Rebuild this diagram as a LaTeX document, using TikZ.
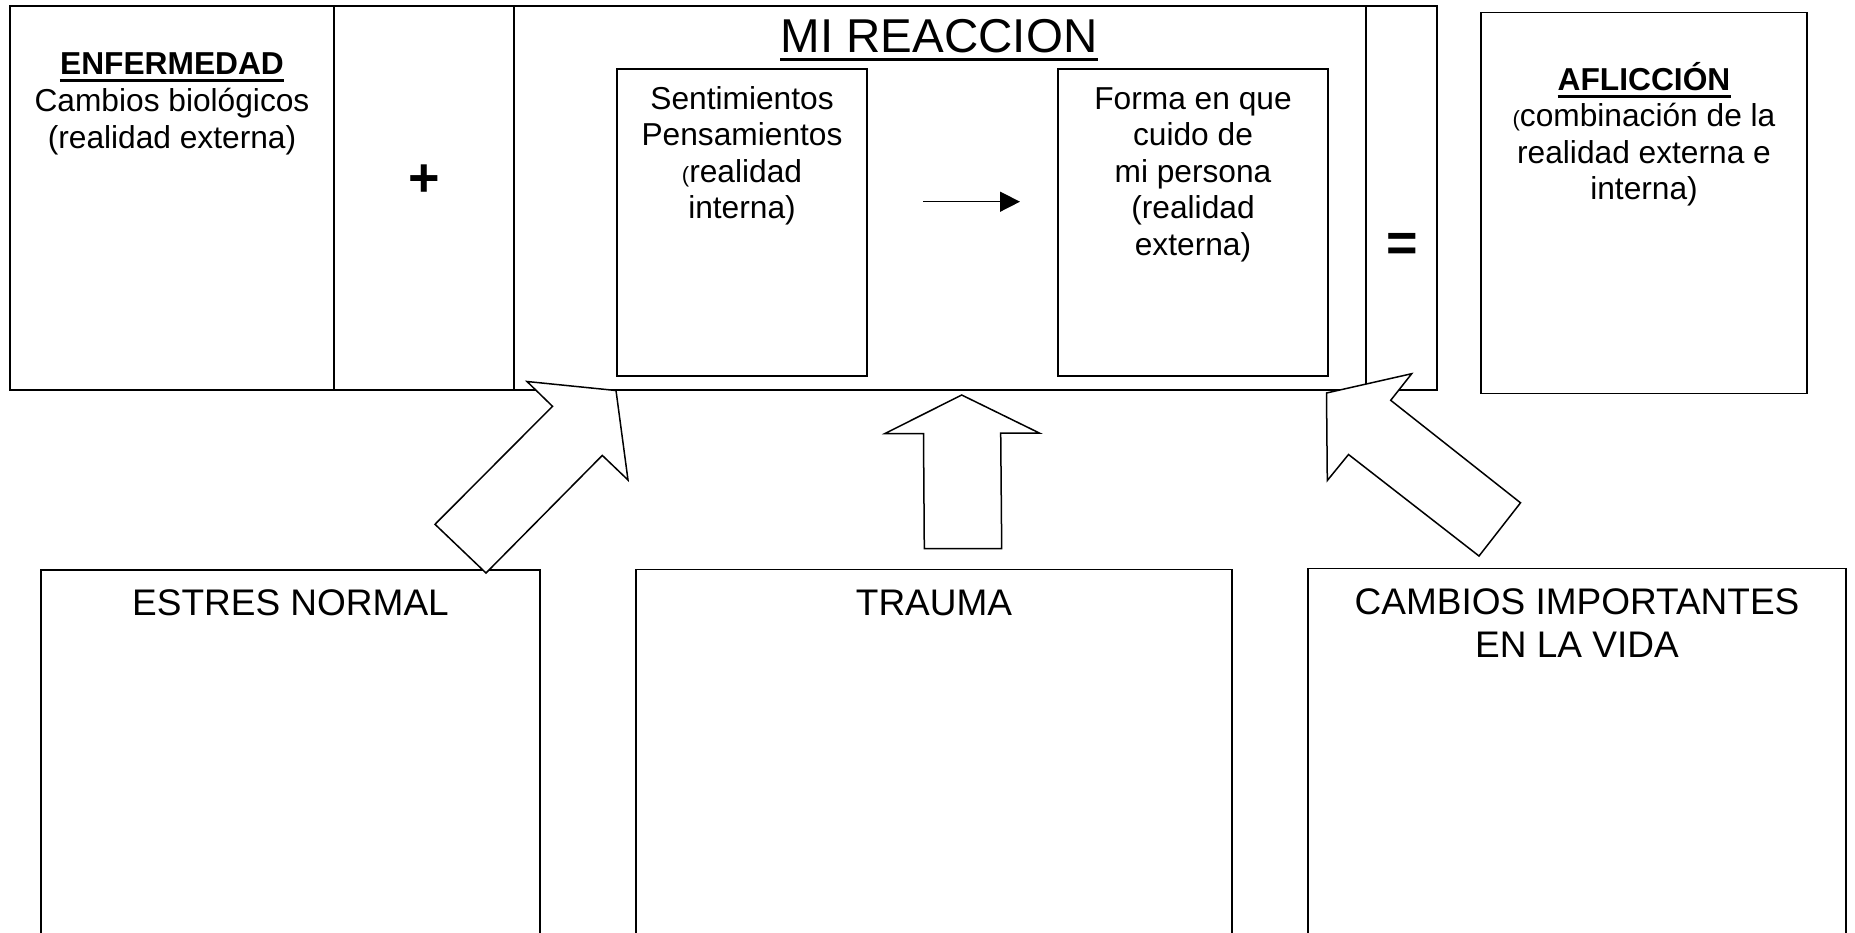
\documentclass[tikz,border=0pt]{standalone}
\usepackage{fontspec}
\setmainfont{Liberation Sans}
\usetikzlibrary{arrows.meta}
\newcommand{\smallparen}{\fontsize{22}{22}\selectfont}
\begin{document}
\begin{tikzpicture}[x=1pt,y=-1pt,
  frame/.style={draw=black,line width=2pt,inner sep=0pt,rectangle},
  panel/.style={draw=black,line width=1.5pt,inner sep=0pt,rectangle},
  body/.style={inner sep=0pt,anchor=base,font=\fontsize{31.7}{36.6}\selectfont},
  boldt/.style={inner sep=0pt,anchor=base,font=\fontsize{31.7}{36.6}\selectfont\bfseries},
  bigt/.style={inner sep=0pt,anchor=base,font=\fontsize{47.5}{54}\selectfont},
  lowt/.style={inner sep=0pt,anchor=base,font=\fontsize{37}{43}\selectfont},
  sym/.style={inner sep=0pt,anchor=base,font=\fontsize{54}{54}\selectfont\bfseries},
  uline/.style={line width=3pt},
  blockarrow/.style={draw=black,fill=white,line width=1.5pt,line join=miter},
  smallarrow/.style={line width=1.5pt,-{Triangle[length=20pt,width=20pt]}}]
\useasboundingbox (0,0) rectangle (1855,932);
\clip (0,0) rectangle (1855,932);
\fill[white] (0,0) rectangle (1855,932);

% top compartments
\node[frame,minimum width=324.5pt,minimum height=384pt] (enf) at (171.75,197.5) {};
\node[frame,minimum width=180pt,minimum height=384pt] (plusbox) at (424,197.5) {};
\node[frame,minimum width=852pt,minimum height=384pt] (reac) at (940,197.5) {};
\node[frame,minimum width=71pt,minimum height=384pt] (eqbox) at (1401.5,197.5) {};

% inner boxes
\node[panel,minimum width=250pt,minimum height=307pt] (sent) at (742,222.5) {};
\node[panel,minimum width=270pt,minimum height=307pt] (forma) at (1193,222.5) {};
\node[panel,minimum width=326pt,minimum height=380.6pt] (aflic) at (1644,203) {};

% bottom boxes
\node[panel,minimum width=499pt,minimum height=390pt] (estres) at (290.5,765) {};
\node[panel,minimum width=596pt,minimum height=390pt] (trauma) at (934,764.5) {};
\node[panel,minimum width=538pt,minimum height=390pt] (cambios) at (1577,763.5) {};

% texts
\node[boldt] (enft) at (172,74) {ENFERMEDAD};
\draw[uline] ([yshift=-6pt]enft.base west) -- ([yshift=-6pt]enft.base east);
\node[body] (enfb) at (172,111.7) {\begin{tabular}[t]{@{}c@{}}Cambios biológicos\\(realidad externa)\end{tabular}};

\node[sym] (plus) at (424,196.5) {+};
\node[sym] (eq) at (1402,261) {=};

\node[bigt] (mireac) at (939,52.5) {MI REACCION};
\draw[uline] ([yshift=-6.5pt]mireac.base west) -- ([yshift=-6.5pt]mireac.base east);

\node[body] (sentt) at (742,109) {\begin{tabular}[t]{@{}c@{}}Sentimientos\\Pensamientos\\{\smallparen(}realidad\\interna)\end{tabular}};
\node[body] (format) at (1193,109) {\begin{tabular}[t]{@{}c@{}}Forma en que\\cuido de\\mi persona\\(realidad\\externa)\end{tabular}};

\coordinate (sa) at (923,201.7);
\coordinate (sb) at (1020,201.7);
\draw[smallarrow] (sa) -- (sb);

\node[boldt] (aflt) at (1644,90.7) {AFLICCIÓN};
\draw[uline] ([yshift=-6pt]aflt.base west) -- ([yshift=-6pt]aflt.base east);
\node[body] (aflb) at (1644,126.7) {\begin{tabular}[t]{@{}c@{}}{\smallparen(}combinación de la\\realidad externa e\\interna)\end{tabular}};

\node[lowt] (estrest) at (290.5,615) {ESTRES NORMAL};
\node[lowt] (traumat) at (934,615) {TRAUMA};
\node[lowt] (cambiost) at (1577,614) {\begin{tabular}[t]{@{}c@{}}CAMBIOS IMPORTANTES\\EN LA VIDA\end{tabular}};

% block arrows
\draw[blockarrow] (527,381.5) -- (552.5,406.3) -- (435,524.3) -- (486,573) -- (602.3,455.4) -- (628,480) -- (616,390.5) -- cycle;
\draw[blockarrow] (961.7,395) -- (885,433.5) -- (923.5,433.5) -- (924.3,548.5) -- (1001.7,548.5) -- (1000.7,433) -- (1039.3,433) -- cycle;
\draw[blockarrow] (1326.5,393) -- (1411.7,373.7) -- (1390.7,400.3) -- (1520.5,502.8) -- (1479,556) -- (1348.5,454.5) -- (1327.3,480.5) -- cycle;
\end{tikzpicture}
\end{document}
